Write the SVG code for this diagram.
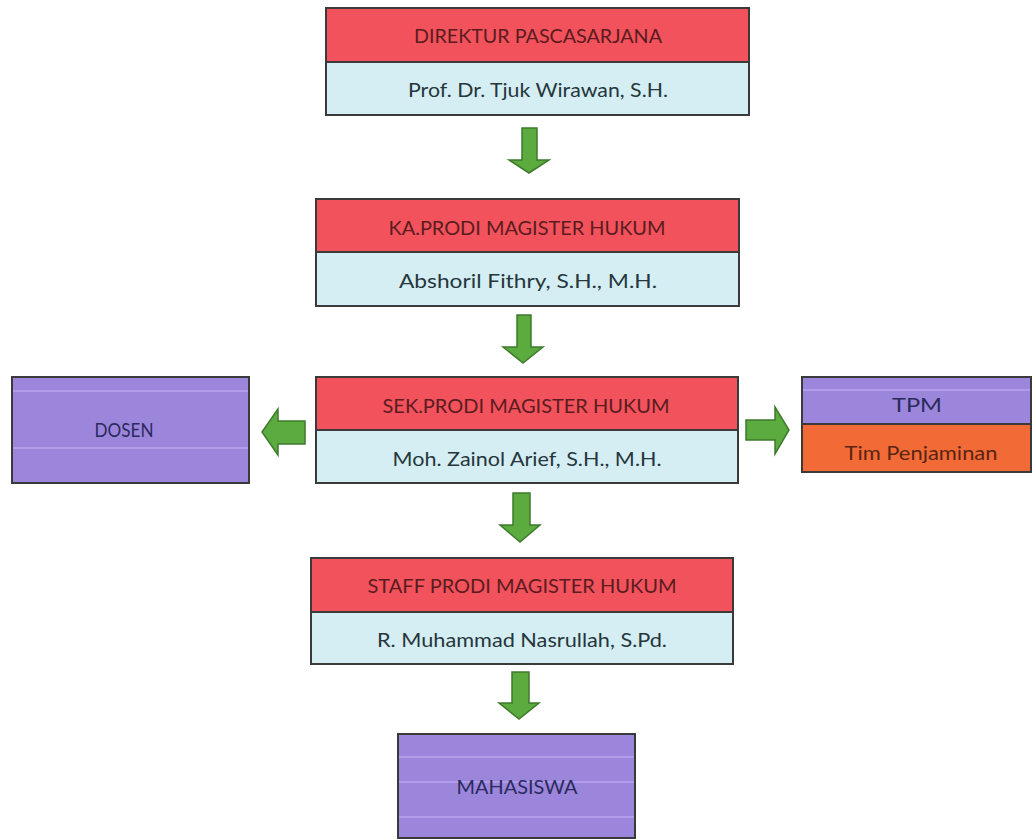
<svg xmlns="http://www.w3.org/2000/svg" width="1032" height="839" viewBox="0 0 1032 839">
<style>
.box{stroke:#3a3a3a;stroke-width:2}
.red{fill:#F2525B}
.cyan{fill:#D4EEF3}
.purple{fill:#9C86DC}
.orange{fill:#F26B36}
.band{stroke:#B8A8F0;stroke-width:2;opacity:0.7}
.arrow{fill:#5CAB3E;stroke:#3E7A2C;stroke-width:1.5}
text{font-family:Lato,"Open Sans","Liberation Sans",sans-serif;font-size:20px;text-anchor:middle}
.tr{fill:#5A1C20}
.tc{fill:#26363C}
.tp{fill:#2A2A5C}
.to{fill:#5A2414}
</style>
<rect width="1032" height="839" fill="#ffffff"/>
<g id="direktur">
<rect class="box red" x="326" y="8" width="423" height="54"/>
<rect class="box cyan" x="326" y="62" width="423" height="53"/>
<text class="tr" x="538" y="43" textLength="248" lengthAdjust="spacingAndGlyphs">DIREKTUR PASCASARJANA</text>
<text class="tc" x="538" y="97" textLength="260" lengthAdjust="spacingAndGlyphs">Prof. Dr. Tjuk Wirawan, S.H.</text>
</g>
<g id="kaprodi">
<rect class="box red" x="316" y="199" width="423" height="53"/>
<rect class="box cyan" x="316" y="252" width="423" height="54"/>
<text class="tr" x="527" y="235" textLength="277" lengthAdjust="spacingAndGlyphs">KA.PRODI MAGISTER HUKUM</text>
<text class="tc" x="528" y="288" textLength="258" lengthAdjust="spacingAndGlyphs">Abshoril Fithry, S.H., M.H.</text>
</g>
<g id="sekprodi">
<rect class="box red" x="316" y="377" width="422" height="53"/>
<rect class="box cyan" x="316" y="430" width="422" height="53"/>
<text class="tr" x="526" y="413" textLength="287" lengthAdjust="spacingAndGlyphs">SEK.PRODI MAGISTER HUKUM</text>
<text class="tc" x="527" y="466" textLength="269" lengthAdjust="spacingAndGlyphs">Moh. Zainol Arief, S.H., M.H.</text>
</g>
<g id="dosen">
<rect class="box purple" x="12" y="377" width="237" height="106"/>
<line class="band" x1="13" y1="391" x2="248" y2="391"/>
<line class="band" x1="13" y1="448" x2="248" y2="448"/>
<text class="tp" x="124" y="437" textLength="59" lengthAdjust="spacingAndGlyphs">DOSEN</text>
</g>
<g id="tpm">
<rect class="box purple" x="802" y="377" width="229" height="47"/>
<rect class="box orange" x="802" y="424" width="229" height="48"/>
<line class="band" x1="803" y1="390" x2="1030" y2="390"/>
<text class="tp" x="917" y="412" textLength="50" lengthAdjust="spacingAndGlyphs">TPM</text>
<text class="to" x="921" y="460" textLength="153" lengthAdjust="spacingAndGlyphs">Tim Penjaminan</text>
</g>
<g id="staff">
<rect class="box red" x="311" y="558" width="422" height="54"/>
<rect class="box cyan" x="311" y="612" width="422" height="52"/>
<text class="tr" x="522" y="593" textLength="309" lengthAdjust="spacingAndGlyphs">STAFF PRODI MAGISTER HUKUM</text>
<text class="tc" x="522" y="647" textLength="290" lengthAdjust="spacingAndGlyphs">R. Muhammad Nasrullah, S.Pd.</text>
</g>
<g id="mahasiswa">
<rect class="box purple" x="398" y="734" width="237" height="104"/>
<line class="band" x1="399" y1="757" x2="634" y2="757"/>
<line class="band" x1="399" y1="782" x2="634" y2="782"/>
<line class="band" x1="399" y1="817" x2="634" y2="817"/>
<text class="tp" x="517" y="794" textLength="121" lengthAdjust="spacingAndGlyphs">MAHASISWA</text>
</g>
<g id="connectors">
<path class="arrow" d="M522,128 H537 V160 H549 L529,173 L509,160 H522 Z"/>
<path class="arrow" d="M517,315 H531 V347 H543 L523,363 L503,347 H517 Z"/>
<path class="arrow" d="M513,493 H530 V525 H540 L520,542 L500,525 H513 Z"/>
<path class="arrow" d="M512,672 H529 V703 H539 L519,719 L499,703 H512 Z"/>
<path class="arrow" d="M305,421 V444 H278 V455 L262,432 L278,409 V421 Z"/>
<path class="arrow" d="M746,420 H775 V407 L789,430 L775,454 V440 H746 Z"/>
</g>
</svg>
